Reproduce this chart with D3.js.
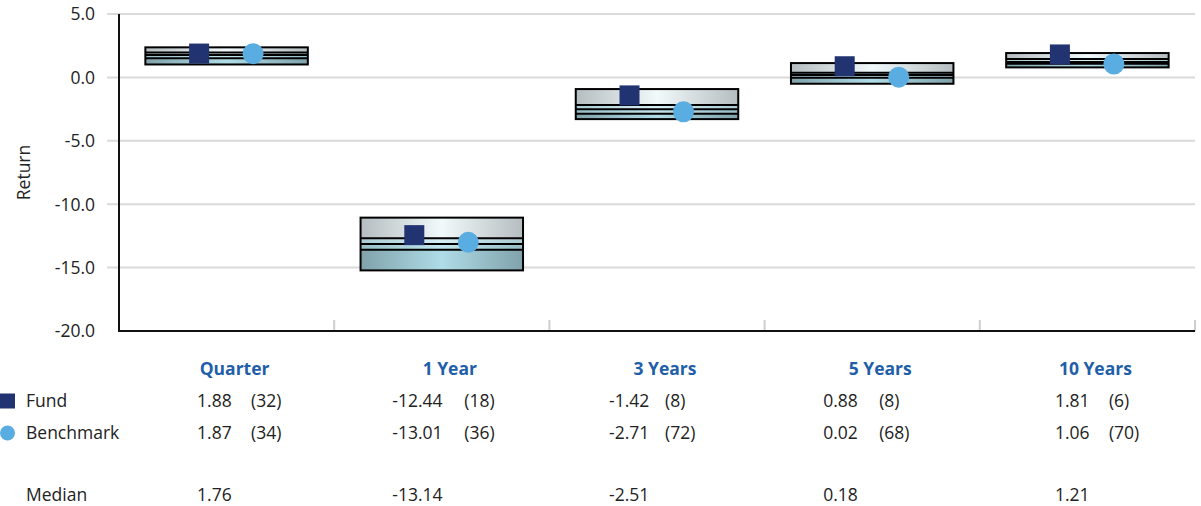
<!DOCTYPE html>
<html>
<head>
<meta charset="utf-8">
<script src="https://cdn.jsdelivr.net/npm/d3@7"></script>
<style>
  html, body { margin: 0; padding: 0; background: #fff; }
  svg { display: block; font-family: "Open Sans", "Noto Sans", sans-serif; }
</style>
</head>
<body>
<div id="chart"></div>
<script>
// chart data
const categories = ["Quarter", "1 Year", "3 Years", "5 Years", "10 Years"];
const fundValues = [1.88, -12.44, -1.42, 0.88, 1.81];
const fundRanks = [32, 18, 8, 8, 6];
const benchValues = [1.87, -13.01, -2.71, 0.02, 1.06];
const benchRanks = [34, 36, 72, 68, 70];
const medianValues = [1.76, -13.14, -2.51, 0.18, 1.21];
// percentile bands (5th, 25th, 75th, 95th)
const p05 = [2.37, -11.06, -0.92, 1.13, 1.92];
const p25 = [1.97, -12.69, -2.18, 0.36, 1.46];
const p75 = [1.52, -13.59, -2.86, -0.02, 1.08];
const p95 = [1.02, -15.22, -3.29, -0.50, 0.79];
const yTicks = [5, 0, -5, -10, -15, -20];

const width = 1201, height = 506;
const margin = { top: 14, right: 6, bottom: 175, left: 119 };
const plotBottom = height - margin.bottom;
const plotRight = width - margin.right;
const fontSize = 17.5;

const svg = d3.select("#chart").append("svg")
    .attr("width", width)
    .attr("height", height);

const x = d3.scaleBand()
    .domain(categories)
    .range([margin.left, plotRight])
    .padding(0);

const y = d3.scaleLinear()
    .domain([-20, 5])
    .range([plotBottom, margin.top]);

// plain hyphen minus like the original
const fmt1 = d => d3.format(".1f")(d).replace("\u2212", "-");
const fmt2 = d => d3.format(".2f")(d).replace("\u2212", "-");

// gradients for the box sections
const defs = svg.append("defs");
const grads = {
    top: ["#b5bdc0", "#f1f9fb"],
    mid1: ["#a9cad2", "#d6eff5"],
    mid2: ["#97bdc7", "#c2e5ed"],
    bot: ["#80a2ab", "#afdce7"]
};
Object.entries(grads).forEach(([id, c]) => {
    const g = defs.append("linearGradient")
        .attr("id", "g-" + id)
        .attr("x1", "0%").attr("x2", "100%")
        .attr("y1", "0%").attr("y2", "0%");
    g.append("stop").attr("offset", "0%").attr("stop-color", c[0]);
    g.append("stop").attr("offset", "50%").attr("stop-color", c[1]);
    g.append("stop").attr("offset", "100%").attr("stop-color", c[0]);
});

// gridlines
svg.append("g")
    .selectAll("line")
    .data(yTicks.slice(0, -1))
    .join("line")
    .attr("x1", margin.left - 12)
    .attr("x2", plotRight)
    .attr("y1", d => y(d))
    .attr("y2", d => y(d))
    .attr("stroke", "#dadada")
    .attr("stroke-width", 2);

// y tick labels
svg.append("g")
    .selectAll("text")
    .data(yTicks)
    .join("text")
    .attr("x", 95)
    .attr("y", d => y(d))
    .attr("dy", "0.36em")
    .attr("text-anchor", "end")
    .attr("font-size", fontSize)
    .attr("fill", "#222")
    .text(fmt1);

svg.append("text")
    .attr("transform", `translate(30,${(margin.top + plotBottom) / 2}) rotate(-90)`)
    .attr("text-anchor", "middle")
    .attr("font-size", fontSize)
    .attr("fill", "#222")
    .text("Return");

// category separators on the bottom axis
svg.append("g")
    .selectAll("line")
    .data(categories)
    .join("line")
    .attr("x1", d => x(d) + x.bandwidth())
    .attr("x2", d => x(d) + x.bandwidth())
    .attr("y1", plotBottom - 11)
    .attr("y2", plotBottom)
    .attr("stroke", "#cfcfcf")
    .attr("stroke-width", 2);

// axes lines
svg.append("line")
    .attr("x1", margin.left).attr("x2", margin.left)
    .attr("y1", margin.top).attr("y2", plotBottom + 1)
    .attr("stroke", "#111").attr("stroke-width", 2);
svg.append("line")
    .attr("x1", margin.left).attr("x2", plotRight)
    .attr("y1", plotBottom).attr("y2", plotBottom)
    .attr("stroke", "#111").attr("stroke-width", 2);

// floating boxes
const boxW = x.bandwidth() * 0.755;
const boxes = svg.append("g")
    .selectAll("g")
    .data(categories)
    .join("g")
    .attr("transform", d => `translate(${x(d) + x.bandwidth() / 2 - boxW / 2},0)`);

const sections = [
    { from: p05, to: p25, fill: "url(#g-top)" },
    { from: p25, to: medianValues, fill: "url(#g-mid1)" },
    { from: medianValues, to: p75, fill: "url(#g-mid2)" },
    { from: p75, to: p95, fill: "url(#g-bot)" }
];
sections.forEach(s => {
    boxes.append("rect")
        .attr("x", 0)
        .attr("width", boxW)
        .attr("y", (d, i) => y(s.from[i]))
        .attr("height", (d, i) => y(s.to[i]) - y(s.from[i]))
        .attr("fill", s.fill);
});
[p25, medianValues, p75].forEach(arr => {
    boxes.append("line")
        .attr("x1", 0).attr("x2", boxW)
        .attr("y1", (d, i) => y(arr[i]))
        .attr("y2", (d, i) => y(arr[i]))
        .attr("stroke", "#000")
        .attr("stroke-width", 2);
});
boxes.append("rect")
    .attr("x", 0)
    .attr("width", boxW)
    .attr("y", (d, i) => y(p05[i]))
    .attr("height", (d, i) => y(p95[i]) - y(p05[i]))
    .attr("fill", "none")
    .attr("stroke", "#000")
    .attr("stroke-width", 2);

// fund and benchmark markers
const sq = 20;
svg.append("g")
    .selectAll("rect")
    .data(categories)
    .join("rect")
    .attr("x", d => x(d) + x.bandwidth() / 2 - 27.5 - sq / 2)
    .attr("y", (d, i) => y(fundValues[i]) - sq / 2)
    .attr("width", sq)
    .attr("height", sq)
    .attr("fill", "#223371");

svg.append("g")
    .selectAll("circle")
    .data(categories)
    .join("circle")
    .attr("cx", d => x(d) + x.bandwidth() / 2 + 26.5)
    .attr("cy", (d, i) => y(benchValues[i]))
    .attr("r", 10.5)
    .attr("fill", "#5aade0");

// table below chart
const colCenter = d => x(d) + x.bandwidth() / 2;
const valueDx = [-29.5, -49.5, -48, -49, -32.5];
const rankDx = [24.5, 22.5, 8, 7, 21.5];
const rowY = { head: 369, fund: 401, bench: 433, median: 495 };

svg.append("g")
    .selectAll("text")
    .data(categories)
    .join("text")
    .attr("x", d => colCenter(d) + 8)
    .attr("y", rowY.head)
    .attr("dy", "0.36em")
    .attr("text-anchor", "middle")
    .attr("font-size", fontSize)
    .attr("font-weight", "bold")
    .attr("fill", "#1f5fa9")
    .text(d => d);

const rows = [
    { label: "Fund", yy: rowY.fund, vals: fundValues, ranks: fundRanks },
    { label: "Benchmark", yy: rowY.bench, vals: benchValues, ranks: benchRanks },
    { label: "Median", yy: rowY.median, vals: medianValues, ranks: null }
];
rows.forEach(r => {
    const g = svg.append("g")
        .attr("font-size", fontSize)
        .attr("fill", "#222");
    g.append("text")
        .attr("x", 26)
        .attr("y", r.yy)
        .attr("dy", "0.36em")
        .text(r.label);
    g.selectAll("text.val")
        .data(categories)
        .join("text")
        .attr("class", "val")
        .attr("x", (d, i) => colCenter(d) + valueDx[i])
        .attr("y", r.yy)
        .attr("dy", "0.36em")
        .text((d, i) => fmt2(r.vals[i]));
    if (r.ranks) {
        g.selectAll("text.rank")
            .data(categories)
            .join("text")
            .attr("class", "rank")
            .attr("x", (d, i) => colCenter(d) + rankDx[i])
            .attr("y", r.yy)
            .attr("dy", "0.36em")
            .text((d, i) => `(${r.ranks[i]})`);
    }
});

// legend markers
svg.append("rect")
    .attr("x", 0).attr("y", rowY.fund - 7.5)
    .attr("width", 15).attr("height", 15)
    .attr("fill", "#223371");
svg.append("circle")
    .attr("cx", 7.5).attr("cy", rowY.bench)
    .attr("r", 7.5)
    .attr("fill", "#5aade0");
</script>
</body>
</html>
